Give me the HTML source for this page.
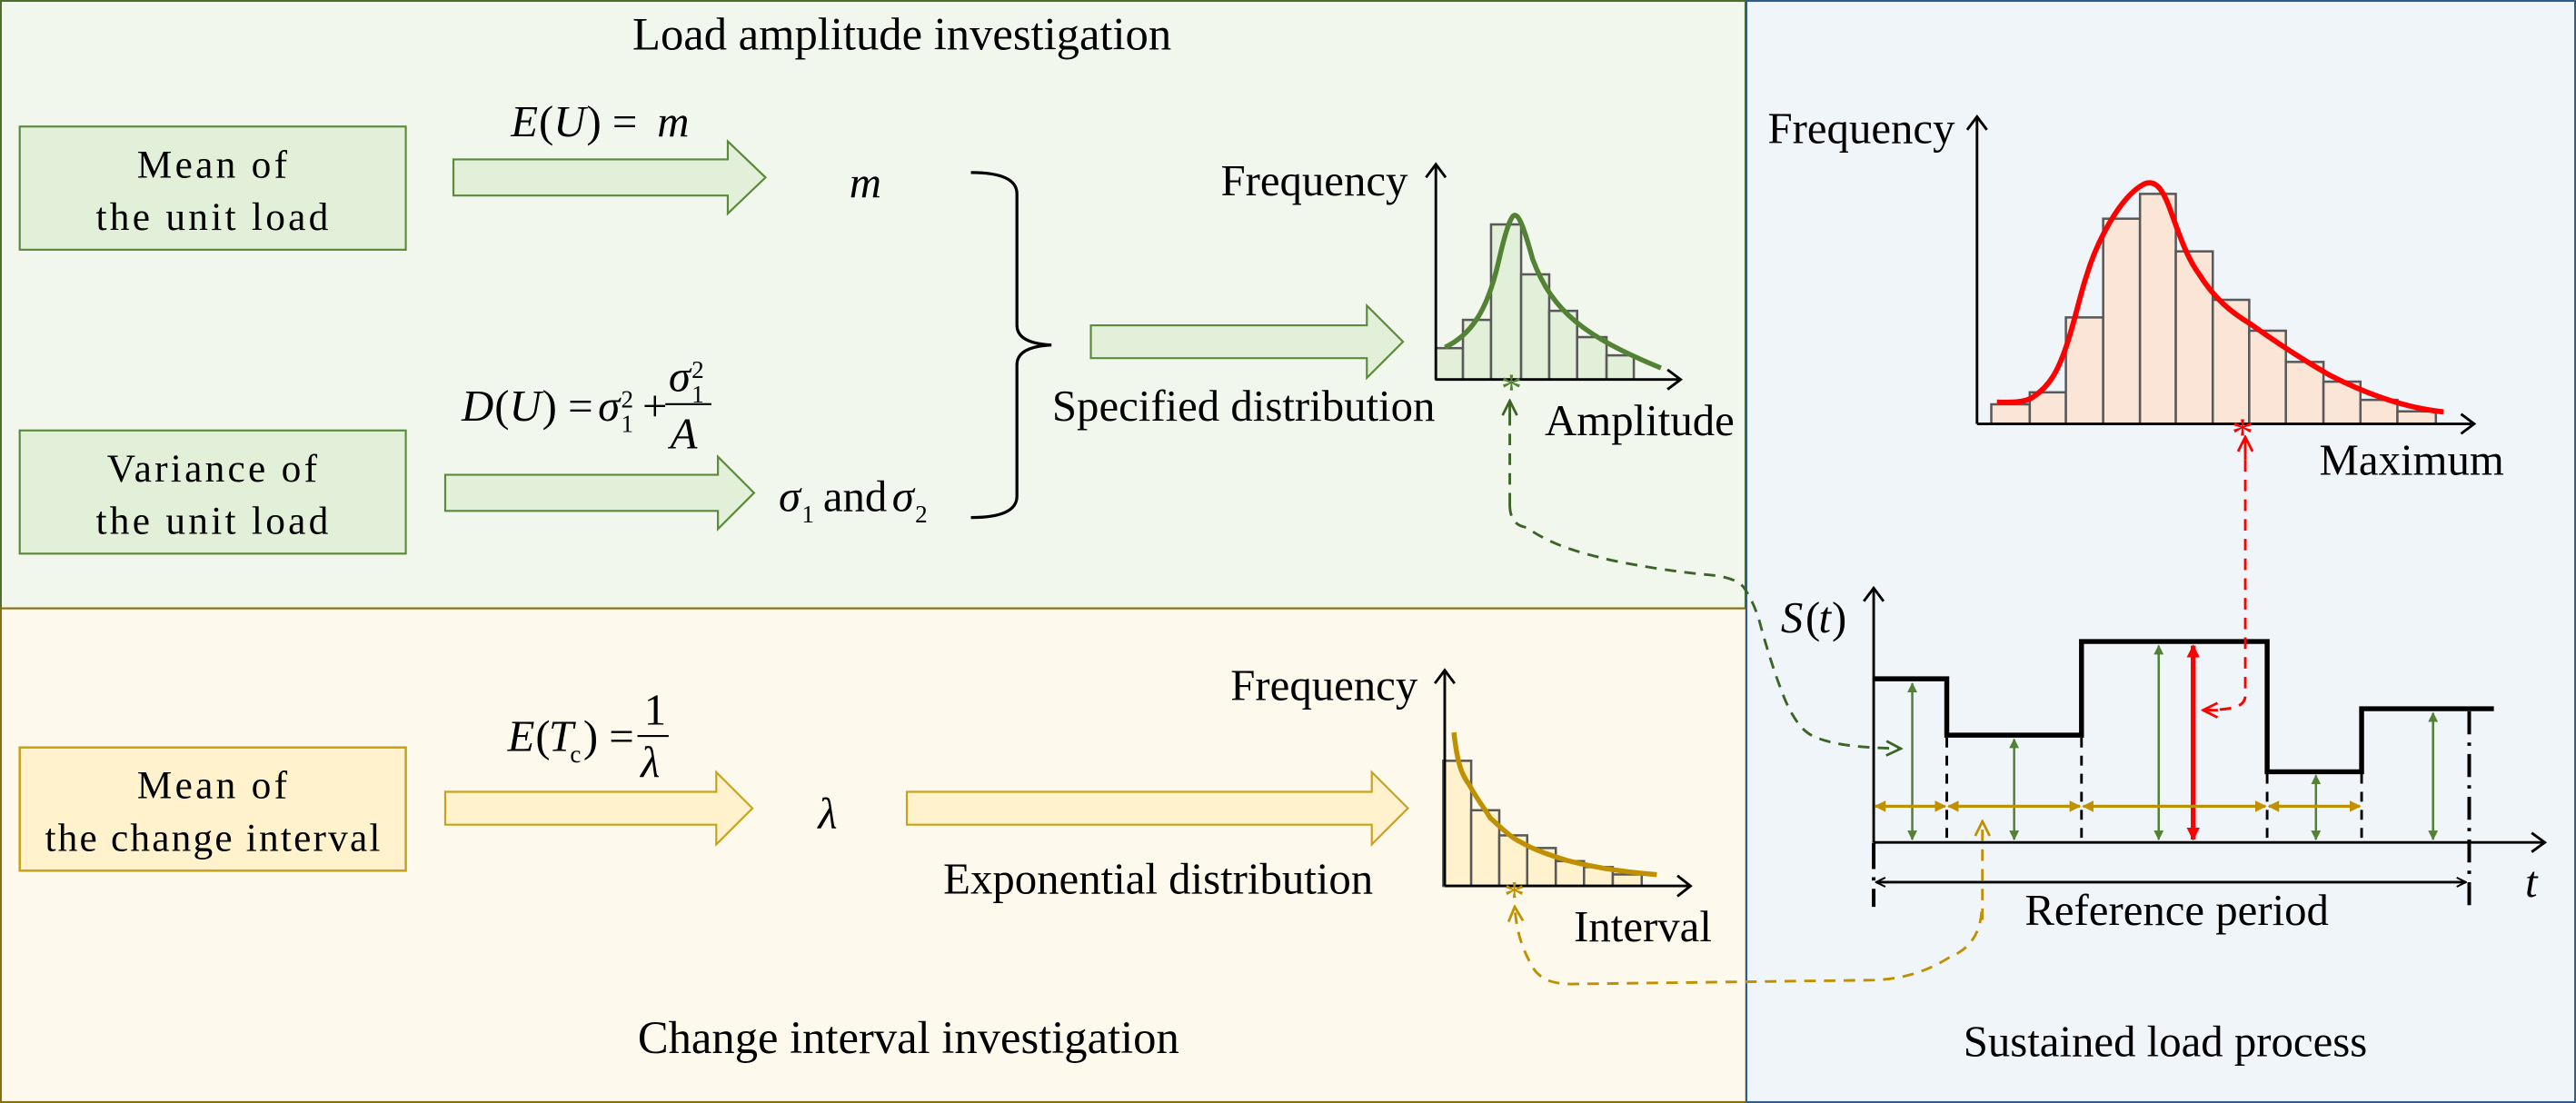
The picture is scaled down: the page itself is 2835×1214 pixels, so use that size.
<!DOCTYPE html>
<html><head><meta charset="utf-8"><style>
html,body{margin:0;padding:0;background:#fff}
svg{display:block}
svg text{font-family:"Liberation Serif","Times New Roman",serif !important;fill:#000}
.it{font-style:italic}
</style></head><body>
<svg width="2835" height="1214" viewBox="0 0 1568 671.4" xmlns="http://www.w3.org/2000/svg" font-family="Liberation Serif, serif">
<defs>
<marker id="ah" viewBox="0 0 10 10" refX="9" refY="5" markerWidth="7" markerHeight="7" orient="auto-start-reverse" markerUnits="userSpaceOnUse"><path d="M1,1 L9,5 L1,9" fill="none" stroke="#000" stroke-width="1.6"/></marker>
<marker id="gA" viewBox="0 0 10 10" refX="9" refY="5" markerWidth="6" markerHeight="6" orient="auto-start-reverse" markerUnits="userSpaceOnUse"><path d="M0,0 L10,5 L0,10z" fill="#548235"/></marker>
<marker id="yA" viewBox="0 0 10 10" refX="9" refY="5" markerWidth="7" markerHeight="7" orient="auto-start-reverse" markerUnits="userSpaceOnUse"><path d="M0,0 L10,5 L0,10z" fill="#bf9000"/></marker>
<marker id="rA" viewBox="0 0 10 10" refX="9" refY="5" markerWidth="8" markerHeight="8" orient="auto-start-reverse" markerUnits="userSpaceOnUse"><path d="M0,0 L10,5 L0,10z" fill="#ff0000"/></marker>
<marker id="gO" viewBox="0 0 10 10" refX="9" refY="5" markerWidth="11" markerHeight="11" orient="auto" markerUnits="userSpaceOnUse"><path d="M1,1 L9,5 L1,9" fill="none" stroke="#3b6426" stroke-width="1.4"/></marker>
<marker id="yO" viewBox="0 0 10 10" refX="9" refY="5" markerWidth="11" markerHeight="11" orient="auto" markerUnits="userSpaceOnUse"><path d="M1,1 L9,5 L1,9" fill="none" stroke="#bf9000" stroke-width="1.4"/></marker>
<marker id="rO" viewBox="0 0 10 10" refX="9" refY="5" markerWidth="11" markerHeight="11" orient="auto" markerUnits="userSpaceOnUse"><path d="M1,1 L9,5 L1,9" fill="none" stroke="#ff0000" stroke-width="1.4"/></marker>
</defs>

<rect x="0.5" y="0.5" width="1062" height="370" fill="#f2f7ee" stroke="#4e6e2e" stroke-width="1.2"/>
<rect x="0.5" y="370.3" width="1062.5" height="300.6" fill="#fef9ed" stroke="#8a6d12" stroke-width="1.2"/>
<rect x="1063" y="0.5" width="504.5" height="670.4" fill="#f0f5fa" stroke="#2f5c8c" stroke-width="1.2"/>

<text x="549" y="30" font-size="28" text-anchor="middle">Load amplitude investigation</text>
<text x="553" y="641" font-size="28" text-anchor="middle">Change interval investigation</text>
<text x="1318" y="643" font-size="27" text-anchor="middle">Sustained load process</text>

<g font-size="24" text-anchor="middle" letter-spacing="1.8">
<rect x="12" y="77" width="235" height="75" fill="#e2efd9" stroke="#5a8a3a" stroke-width="1.2"/>
<text x="130" y="108">Mean of</text><text x="130" y="140">the unit load</text>
<rect x="12" y="262" width="235" height="75" fill="#e2efd9" stroke="#5a8a3a" stroke-width="1.2"/>
<text x="130" y="293">Variance of</text><text x="130" y="325">the unit load</text>
<rect x="12" y="455" width="235" height="75" fill="#fff2cc" stroke="#c9a21a" stroke-width="1.4"/>
<text x="130" y="486">Mean of</text><text x="130" y="518" letter-spacing="1.2">the change interval</text>
</g>

<polygon points="276,97 443,97 443,86 466,108 443,130 443,119 276,119" fill="#e2efd9" stroke="#5a8a3a" stroke-width="1.2"/>
<polygon points="271,289 437,289 437,278 459,300 437,322 437,311 271,311" fill="#e2efd9" stroke="#5a8a3a" stroke-width="1.2"/>
<polygon points="664,198 832,198 832,186 854,208 832,230 832,218 664,218" fill="#e2efd9" stroke="#5a8a3a" stroke-width="1.2"/>
<polygon points="271,482 436,482 436,470 458,492 436,514 436,502 271,502" fill="#fff2cc" stroke="#c9a21a" stroke-width="1.2"/>
<polygon points="552,482 835,482 835,470 857,492 835,514 835,502 552,502" fill="#fff2cc" stroke="#c9a21a" stroke-width="1.2"/>

<g font-size="27">
<text x="311" y="83" class="it">E</text><text x="328" y="83">(</text><text x="337" y="83" class="it">U</text><text x="357" y="83">) = </text><text x="400" y="83" class="it">m</text>
<text x="517" y="120" class="it">m</text>
<text x="281" y="256" class="it">D</text><text x="301" y="256">(</text><text x="310" y="256" class="it">U</text><text x="330" y="256">) = </text><text x="364" y="256" class="it">σ</text><text x="378" y="263" font-size="15">1</text><text x="378" y="248" font-size="15">2</text><text x="391" y="256">+</text>
<text x="407" y="238" class="it">σ</text><text x="421" y="245" font-size="15">1</text><text x="421" y="230" font-size="15">2</text>
<line x1="405" y1="246" x2="433" y2="246" stroke="#000" stroke-width="1.2"/>
<text x="408" y="273" class="it">A</text>
<text x="474" y="311" class="it">σ</text><text x="488" y="318" font-size="15">1</text><text x="501" y="311">and</text><text x="543" y="311" class="it">σ</text><text x="557" y="318" font-size="15">2</text>
<text x="309" y="457" class="it">E</text><text x="326" y="457">(</text><text x="334" y="457" class="it">T</text><text x="347" y="464" font-size="15">c</text><text x="355" y="457">) = </text>
<text x="392" y="441">1</text><line x1="388" y1="448" x2="407" y2="448" stroke="#000" stroke-width="1.2"/><text x="390" y="473" class="it">λ</text>
<text x="498" y="504" class="it">λ</text>
<text x="757" y="256" text-anchor="middle">Specified distribution</text>
<text x="705" y="544" text-anchor="middle">Exponential distribution</text>
<text x="800" y="119" text-anchor="middle">Frequency</text>
<text x="998" y="265" text-anchor="middle">Amplitude</text>
<text x="806" y="426" text-anchor="middle">Frequency</text>
<text x="1000" y="573" text-anchor="middle">Interval</text>
<text x="1133" y="87" text-anchor="middle">Frequency</text>
<text x="1468" y="289" text-anchor="middle">Maximum</text>
<text x="1325" y="563" text-anchor="middle">Reference period</text>
<text x="1084" y="385" class="it">S</text><text x="1099" y="385">(</text><text x="1107" y="385" class="it">t</text><text x="1115" y="385">)</text>
<text x="1537" y="546" class="it">t</text>
</g>

<path d="M591,105 Q619,105 619,118 L619,198 Q619,209 640,210 Q619,211 619,222 L619,302 Q619,315 591,315" fill="none" stroke="#000" stroke-width="1.8"/>

<g fill="#e2efd9" stroke="#595959" stroke-width="1.4">
<rect x="874" y="211.9" width="16.5" height="19.1"/><rect x="890.5" y="194.7" width="17.1" height="36.3"/>
<rect x="907.6" y="136.6" width="18.3" height="94.4"/><rect x="925.9" y="167" width="17.1" height="64"/>
<rect x="943" y="189.2" width="17" height="41.8"/><rect x="960" y="205.2" width="17.9" height="25.8"/>
<rect x="977.9" y="216.3" width="16.6" height="14.7"/>
</g>
<path d="M874,231 L1022,231 M874,231 L874,100" stroke="#000" stroke-width="1.6" fill="none"/>
<path d="M1015,225 L1023,231 L1015,237 M868,108 L874,100 L880,108" stroke="#000" stroke-width="1.6" fill="none"/>
<path d="M879.6,211.4 C895,204 905,190 912,160 C917,138 920,131 922,131 C925,131 928,140 933,158 C945,190 965,205 1011,224" fill="none" stroke="#548235" stroke-width="3"/>
<text x="920" y="245" font-size="26" text-anchor="middle" style="fill:#548235">*</text>

<g fill="#fff2cc" stroke="#595959" stroke-width="1.4">
<rect x="878.5" y="463.1" width="17" height="76.2"/><rect x="895.5" y="493.2" width="17.1" height="46.1"/>
<rect x="912.6" y="508.5" width="17" height="30.8"/><rect x="929.6" y="516.2" width="17.4" height="23.1"/>
<rect x="947" y="524.2" width="17.2" height="15.1"/><rect x="964.2" y="527.8" width="17.5" height="11.5"/>
<rect x="981.7" y="532.3" width="17.6" height="7"/>
</g>
<path d="M879.4,539.3 L1028,539.3 M879.4,539.3 L879.4,408" stroke="#000" stroke-width="1.6" fill="none"/>
<path d="M1021,533 L1029,539.3 L1021,545.6 M873.4,416 L879.4,408 L885.4,416" stroke="#000" stroke-width="1.6" fill="none"/>
<path d="M885,445.8 C887,465 890,472 894.2,477.5 C900,488 905,494 907,497.8 C915,505 920,510 925.5,512.5 C935,518 945,521 953.2,523.6 C970,528 990,531 1008.5,532.4" fill="none" stroke="#bf9000" stroke-width="3"/>
<text x="921.8" y="554" font-size="26" text-anchor="middle" style="fill:#bf9000">*</text>

<g fill="#fbe5d6" stroke="#595959" stroke-width="1.4">
<rect x="1212.1" y="246.1" width="23.4" height="12"/><rect x="1235.5" y="238.8" width="22" height="19.3"/>
<rect x="1257.5" y="193.2" width="22.7" height="64.9"/><rect x="1280.2" y="133.1" width="22.4" height="125"/>
<rect x="1302.6" y="118" width="21.8" height="140.1"/><rect x="1324.4" y="153" width="22.5" height="105.1"/>
<rect x="1346.9" y="182.5" width="22.2" height="75.6"/><rect x="1369.1" y="201.3" width="22.3" height="56.8"/>
<rect x="1391.4" y="220.3" width="22.9" height="37.8"/><rect x="1414.3" y="232.3" width="22.5" height="25.8"/>
<rect x="1436.8" y="243.4" width="22.5" height="14.7"/><rect x="1459.3" y="250.4" width="23.4" height="7.7"/>
</g>
<path d="M1203.4,258 L1505,258 M1203.4,258 L1203.4,71" stroke="#000" stroke-width="1.6" fill="none"/>
<path d="M1498,252 L1506,258 L1498,264 M1197.4,79 L1203.4,71 L1209.4,79" stroke="#000" stroke-width="1.6" fill="none"/>
<path d="M1215.5,244.8 C1225,245 1232,245 1237,242 C1248,235 1253,225 1258,210 C1263,195 1266,180 1270,168 C1276,148 1290,120 1305,112 C1312,109 1316,115 1320,125 C1325,138 1330,155 1338,166 C1348,182 1358,190 1370,197.3 C1385,208 1400,218 1418.5,228.6 C1435,237 1460,248 1487.3,250.7" fill="none" stroke="#ff0000" stroke-width="3.2"/>
<text x="1365" y="273" font-size="27" text-anchor="middle" style="fill:#ff0000">*</text>

<path d="M1140.5,512.8 L1548,512.8 M1140.5,512.8 L1140.5,358" stroke="#000" stroke-width="1.6" fill="none"/>
<path d="M1541,507 L1549,512.8 L1541,518.6 M1134.5,366 L1140.5,358 L1146.5,366" stroke="#000" stroke-width="1.6" fill="none"/>
<path d="M1140.5,413.2 L1185,413.2 L1185,447.5 L1267,447.5 L1267,390.5 L1380,390.5 L1380,469.8 L1437.5,469.8 L1437.5,431.4 L1518,431.4" fill="none" stroke="#000" stroke-width="3"/>
<g stroke="#000" stroke-width="1.6" stroke-dasharray="6,5">
<line x1="1185" y1="449" x2="1185" y2="512"/><line x1="1267" y1="449" x2="1267" y2="512"/>
<line x1="1380" y1="471" x2="1380" y2="512"/><line x1="1437.5" y1="471" x2="1437.5" y2="512"/>
</g>
<line x1="1503" y1="433" x2="1503" y2="552" stroke="#000" stroke-width="2.2" stroke-dasharray="14,5,2,5"/>
<line x1="1140.5" y1="513" x2="1140.5" y2="552" stroke="#000" stroke-width="2.2" stroke-dasharray="16,5,2,5"/>
<line x1="1142" y1="537" x2="1501" y2="537" stroke="#000" stroke-width="1.6" marker-start="url(#ah)" marker-end="url(#ah)"/>
<g stroke="#548235" stroke-width="1.4">
<line x1="1164" y1="416" x2="1164" y2="511" marker-start="url(#gA)" marker-end="url(#gA)"/>
<line x1="1226" y1="450" x2="1226" y2="511" marker-start="url(#gA)" marker-end="url(#gA)"/>
<line x1="1314" y1="393" x2="1314" y2="511" marker-start="url(#gA)" marker-end="url(#gA)"/>
<line x1="1409.7" y1="472" x2="1409.7" y2="511" marker-start="url(#gA)" marker-end="url(#gA)"/>
<line x1="1481" y1="434" x2="1481" y2="511" marker-start="url(#gA)" marker-end="url(#gA)"/>
</g>
<line x1="1335" y1="393" x2="1335" y2="511" stroke="#ff0000" stroke-width="3" marker-start="url(#rA)" marker-end="url(#rA)"/>
<g stroke="#bf9000" stroke-width="1.8">
<line x1="1141.5" y1="490.8" x2="1184" y2="490.8" marker-start="url(#yA)" marker-end="url(#yA)"/>
<line x1="1186" y1="490.8" x2="1266" y2="490.8" marker-start="url(#yA)" marker-end="url(#yA)"/>
<line x1="1268" y1="490.8" x2="1379" y2="490.8" marker-start="url(#yA)" marker-end="url(#yA)"/>
<line x1="1381" y1="490.8" x2="1436.5" y2="490.8" marker-start="url(#yA)" marker-end="url(#yA)"/>
</g>

<path d="M919,307 L919,252 M919,307 C919,315 922,320 929,321 C945,332 960,336 980.7,341 C1010,347 1030,349 1044.8,350.4 C1055,352 1060,355 1062,358.4 C1067,366 1070,374 1072,382 C1077,400 1082,415 1087,427 C1092,438 1097,445 1104,448.3 C1115,453 1128,455 1157,455.7" fill="none" stroke="#3b6426" stroke-width="1.6" stroke-dasharray="7,5" marker-end="url(#gO)"/>
<path d="M919,254 L919,244" fill="none" stroke="#3b6426" stroke-width="1.6" marker-end="url(#gO)"/>
<path d="M1206.7,560 L1206.7,500" fill="none" stroke="#bf9000" stroke-width="1.6" stroke-dasharray="7,5" marker-end="url(#yO)"/>
<path d="M1206.2,555 C1205,570 1198,578 1185.7,583.3 C1170,593 1155,596 1141,596.6 L956,599 C942,599 935,594 931.4,586 C926,576 923,566 922,552" fill="none" stroke="#bf9000" stroke-width="1.6" stroke-dasharray="7,5" marker-end="url(#yO)"/>
<path d="M1366.7,268 L1366.7,332 L1366.7,424 C1366,430 1360,432 1342,432.3" fill="none" stroke="#ff0000" stroke-width="1.6" stroke-dasharray="7,5"/>
<path d="M1366.7,280 L1366.7,266" fill="none" stroke="#ff0000" stroke-width="1.6" marker-end="url(#rO)"/>
<path d="M1350,432.3 L1341,432.3" fill="none" stroke="#ff0000" stroke-width="1.6" marker-end="url(#rO)"/>
</svg>
</body></html>
